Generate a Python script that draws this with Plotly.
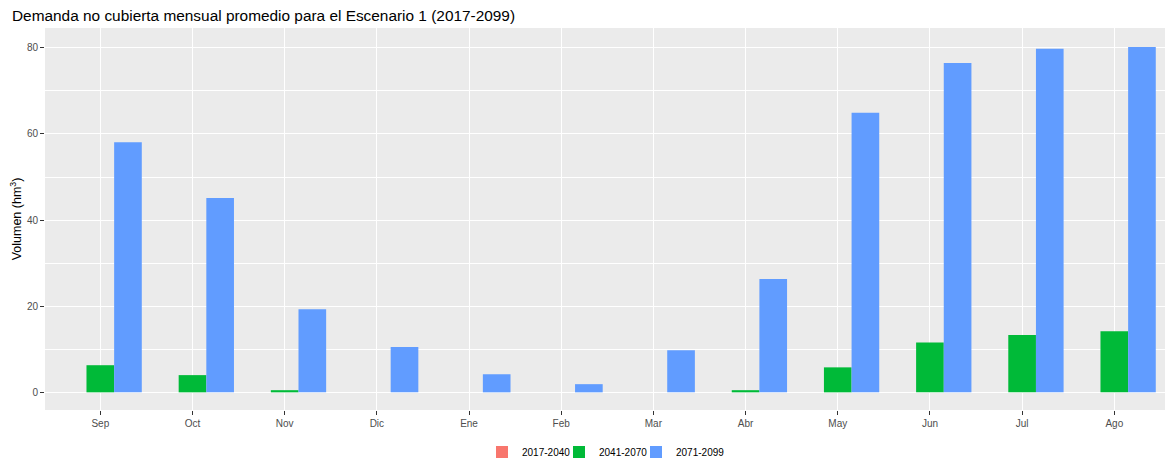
import plotly.graph_objects as go

months = ["Sep", "Oct", "Nov", "Dic", "Ene", "Feb", "Mar", "Abr", "May", "Jun", "Jul", "Ago"]
s_2017_2040 = [0, 0, 0, 0, 0, 0, 0, 0, 0, 0, 0, 0]
s_2041_2070 = [6.3, 4.0, 0.5, 0, 0, 0, 0, 0.5, 5.8, 11.6, 13.3, 14.2]
s_2071_2099 = [58.1, 45.1, 19.3, 10.5, 4.2, 1.9, 9.8, 26.3, 64.9, 76.5, 79.8, 80.2]

series = [("2017-2040", s_2017_2040, "#F8766D"),
          ("2041-2070", s_2041_2070, "#00BA38"),
          ("2071-2099", s_2071_2099, "#619CFF")]
legend_ids = ["legend", "legend2", "legend3"]
legend_left = [482, 559, 636]

fig = go.Figure()
for (name, vals, col), lid in zip(series, legend_ids):
    fig.add_trace(go.Bar(x=months, y=vals, name=name, legend=lid, showlegend=True,
                         marker=dict(color=col, line=dict(width=0))))

font = "Liberation Sans, Arial, sans-serif"
fig.update_layout(
    width=1165, height=462, showlegend=True,
    barmode="group", bargap=0.1, bargroupgap=0,
    paper_bgcolor="white", plot_bgcolor="#EBEBEB",
    margin=dict(l=45, r=0, t=28, b=52),
    font=dict(family=font, color="#4D4D4D", size=10),
    title=dict(text="Demanda no cubierta mensual promedio para el Escenario 1 (2017-2099)",
               x=12/1165, xanchor="left", xref="container",
               y=1 - 16/462, yanchor="middle", yref="container",
               font=dict(family=font, size=15.4, color="black")),
    xaxis=dict(type="category", range=[-0.6, 11.55], showgrid=True, gridcolor="white", gridwidth=1.1,
               ticks="outside", ticklen=4, tickcolor="#333333", tickwidth=1,
               tickfont=dict(family=font, size=10, color="#4D4D4D"), zeroline=False, showline=False),
    yaxis=dict(range=[-4.1, 84.6], tickvals=[0, 20, 40, 60, 80], showgrid=True, gridcolor="white", gridwidth=1.1,
               ticks="outside", ticklen=4, tickcolor="#333333", tickwidth=1,
               tickfont=dict(family=font, size=10, color="#4D4D4D"), zeroline=False, showline=False,
               minor=dict(tickvals=[10, 30, 50, 70], showgrid=True, gridcolor="white", gridwidth=0.5, ticks=""),
               title=dict(text="Volumen (hm<sup>3</sup>)", font=dict(family=font, size=12.5, color="black"), standoff=2)),
)
for lid, left in zip(legend_ids, legend_left):
    fig.update_layout({lid: dict(orientation="h", x=left/1165, xanchor="left", xref="container",
                                 y=1 - 452/462, yanchor="middle", yref="container",
                                 itemwidth=30, bgcolor="rgba(0,0,0,0)", visible=True,
                                 font=dict(family=font, size=10, color="black"))})

fig.write_html("out.html")
